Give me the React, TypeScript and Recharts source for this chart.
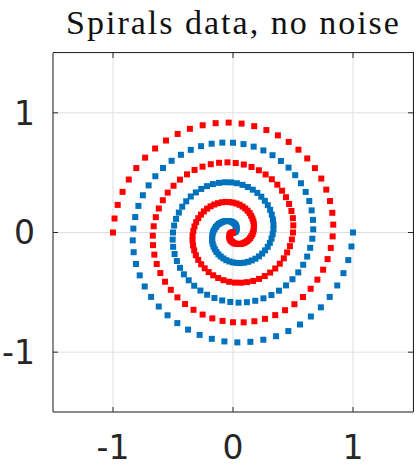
import React from 'react'
import {
  ScatterChart,
  Scatter,
  XAxis,
  YAxis,
  CartesianGrid,
} from 'recharts'

// points in polar form: radius and angle (deg, ccw from +x)
// of the blue spiral; the red spiral is the same curve turned half a revolution
const pointRadius = [
  0, 0.006, 0.013, 0.019, 0.025, 0.031, 0.038, 0.044, 0.05, 0.056,
  0.063, 0.069, 0.075, 0.081, 0.088, 0.094, 0.1, 0.106, 0.113, 0.119,
  0.125, 0.131, 0.138, 0.144, 0.15, 0.156, 0.163, 0.169, 0.175, 0.181,
  0.188, 0.194, 0.2, 0.206, 0.213, 0.219, 0.225, 0.231, 0.238, 0.244,
  0.25, 0.256, 0.263, 0.269, 0.275, 0.281, 0.288, 0.294, 0.3, 0.306,
  0.313, 0.319, 0.325, 0.331, 0.338, 0.344, 0.35, 0.356, 0.363, 0.369,
  0.375, 0.381, 0.388, 0.394, 0.4, 0.406, 0.413, 0.419, 0.425, 0.431,
  0.438, 0.444, 0.45, 0.456, 0.463, 0.469, 0.475, 0.481, 0.488, 0.494,
  0.5, 0.506, 0.513, 0.519, 0.525, 0.531, 0.538, 0.544, 0.55, 0.556,
  0.563, 0.569, 0.575, 0.581, 0.588, 0.594, 0.6, 0.606, 0.613, 0.619,
  0.625, 0.631, 0.638, 0.644, 0.65, 0.656, 0.663, 0.669, 0.675, 0.681,
  0.688, 0.694, 0.7, 0.706, 0.713, 0.719, 0.725, 0.731, 0.738, 0.744,
  0.75, 0.756, 0.763, 0.769, 0.775, 0.781, 0.788, 0.794, 0.8, 0.806,
  0.813, 0.819, 0.825, 0.831, 0.838, 0.844, 0.85, 0.856, 0.863, 0.869,
  0.875, 0.881, 0.888, 0.894, 0.9, 0.906, 0.913, 0.919, 0.925, 0.931,
  0.938, 0.944, 0.95, 0.956, 0.963, 0.969, 0.975, 0.981, 0.988, 0.994,
  1,
]

const pointAngleDeg = [
  0, 6.75, 13.5, 20.25, 27, 33.75, 40.5, 47.25, 54, 60.75,
  67.5, 74.25, 81, 87.75, 94.5, 101.25, 108, 114.75, 121.5, 128.25,
  135, 141.75, 148.5, 155.25, 162, 168.75, 175.5, 182.25, 189, 195.75,
  202.5, 209.25, 216, 222.75, 229.5, 236.25, 243, 249.75, 256.5, 263.25,
  270, 276.75, 283.5, 290.25, 297, 303.75, 310.5, 317.25, 324, 330.75,
  337.5, 344.25, 351, 357.75, 364.5, 371.25, 378, 384.75, 391.5, 398.25,
  405, 411.75, 418.5, 425.25, 432, 438.75, 445.5, 452.25, 459, 465.75,
  472.5, 479.25, 486, 492.75, 499.5, 506.25, 513, 519.75, 526.5, 533.25,
  540, 546.75, 553.5, 560.25, 567, 573.75, 580.5, 587.25, 594, 600.75,
  607.5, 614.25, 621, 627.75, 634.5, 641.25, 648, 654.75, 661.5, 668.25,
  675, 681.75, 688.5, 695.25, 702, 708.75, 715.5, 722.25, 729, 735.75,
  742.5, 749.25, 756, 762.75, 769.5, 776.25, 783, 789.75, 796.5, 803.25,
  810, 816.75, 823.5, 830.25, 837, 843.75, 850.5, 857.25, 864, 870.75,
  877.5, 884.25, 891, 897.75, 904.5, 911.25, 918, 924.75, 931.5, 938.25,
  945, 951.75, 958.5, 965.25, 972, 978.75, 985.5, 992.25, 999, 1005.75,
  1012.5, 1019.25, 1026, 1032.75, 1039.5, 1046.25, 1053, 1059.75, 1066.5, 1073.25,
  1080,
]

const spiralNames = ['blue', 'red']
const spiralTurnDeg = [0, 180]
const spiralColors = ['#0072BD', '#FF0000']

const axisTicks = [-1, 0, 1]
const axisDomain = [-1.5, 1.5]

const AXIS_COLOR = '#262626'
const W = 417
const H = 470
const MARGIN = { top: 53, right: 4, bottom: 0, left: 0 }
const X_AXIS_H = 58
const Y_AXIS_W = 53
const PLOT_LEFT = Y_AXIS_W
const PLOT_TOP = MARGIN.top
const PLOT_RIGHT = W - MARGIN.right
const PLOT_BOTTOM = H - X_AXIS_H
const X_GAP = 24
const Y_GAP = 18
const TICK_LEN = 5

const spirals = spiralNames.map((name, s) => ({
  name,
  color: spiralColors[s],
  points: pointRadius.map((r, i) => {
    const a = ((pointAngleDeg[i] + spiralTurnDeg[s]) * Math.PI) / 180
    return { x: r * Math.cos(a), y: r * Math.sin(a) }
  }),
}))

const labelStyle = {
  fontFamily: '"DejaVu Sans", sans-serif',
  fontSize: 33,
  fill: AXIS_COLOR,
}

// label below plus inward ticks on bottom and top edges
const BottomTick = ({ x, y, payload }: any) => (
  <g>
    <line x1={x} x2={x} y1={y - X_GAP} y2={y - X_GAP - TICK_LEN} stroke={AXIS_COLOR} />
    <line x1={x} x2={x} y1={PLOT_TOP} y2={PLOT_TOP + TICK_LEN} stroke={AXIS_COLOR} />
    <text x={x} y={y} dy="0.71em" textAnchor="middle" style={labelStyle}>
      {payload.value}
    </text>
  </g>
)

// label left plus inward ticks on left and right edges
const LeftTick = ({ x, y, payload }: any) => (
  <g>
    <line x1={x + Y_GAP} x2={x + Y_GAP + TICK_LEN} y1={y} y2={y} stroke={AXIS_COLOR} />
    <line x1={PLOT_RIGHT} x2={PLOT_RIGHT - TICK_LEN} y1={y} y2={y} stroke={AXIS_COLOR} />
    <text x={x} y={y} dy="0.355em" textAnchor="end" style={labelStyle}>
      {payload.value}
    </text>
  </g>
)

const squareShape = (color: string) => (props: any) => (
  <rect x={props.cx - 3} y={props.cy - 3} width={6} height={6} fill={color} />
)

export default function App() {
  return (
    <div style={{ position: 'absolute', left: 0, top: 0, width: W, height: H, background: '#fff' }}>
      <ScatterChart
        width={W}
        height={H}
        margin={MARGIN}
        style={{ position: 'absolute', left: 0, top: 0 }}
      >
        <CartesianGrid stroke="#dfdfdf" />
        <XAxis
          dataKey="x"
          type="number"
          domain={axisDomain}
          ticks={axisTicks}
          height={X_AXIS_H}
          tickSize={0}
          tickMargin={X_GAP}
          tickLine={false}
          axisLine={{ stroke: AXIS_COLOR }}
          tick={<BottomTick />}
          allowDataOverflow
        />
        <YAxis
          dataKey="y"
          type="number"
          domain={axisDomain}
          ticks={axisTicks}
          width={Y_AXIS_W}
          tickSize={0}
          tickMargin={Y_GAP}
          tickLine={false}
          axisLine={{ stroke: AXIS_COLOR }}
          tick={<LeftTick />}
          allowDataOverflow
        />
        {spirals.map((sp) => (
          <Scatter
            key={sp.name}
            name={sp.name}
            data={sp.points}
            fill={sp.color}
            shape={squareShape(sp.color)}
            isAnimationActive={false}
          />
        ))}
      </ScatterChart>
      {/* top and right edges of the axes box */}
      <div
        style={{
          position: 'absolute',
          left: PLOT_LEFT,
          top: PLOT_TOP - 1,
          width: PLOT_RIGHT - PLOT_LEFT + 1,
          height: PLOT_BOTTOM - PLOT_TOP + 1,
          boxSizing: 'border-box',
          borderTop: `1.5px solid ${AXIS_COLOR}`,
          borderRight: `1.5px solid ${AXIS_COLOR}`,
          pointerEvents: 'none',
        }}
      />
      <div
        style={{
          position: 'absolute',
          left: 0,
          top: 6,
          width: W,
          textAlign: 'center',
          paddingLeft: 50,
          boxSizing: 'border-box',
          fontFamily: '"Liberation Serif", serif',
          fontSize: 34,
          lineHeight: '34px',
          color: '#111',
          whiteSpace: 'nowrap',
          letterSpacing: 2,
        }}
      >
        Spirals data, no noise
      </div>
    </div>
  )
}
